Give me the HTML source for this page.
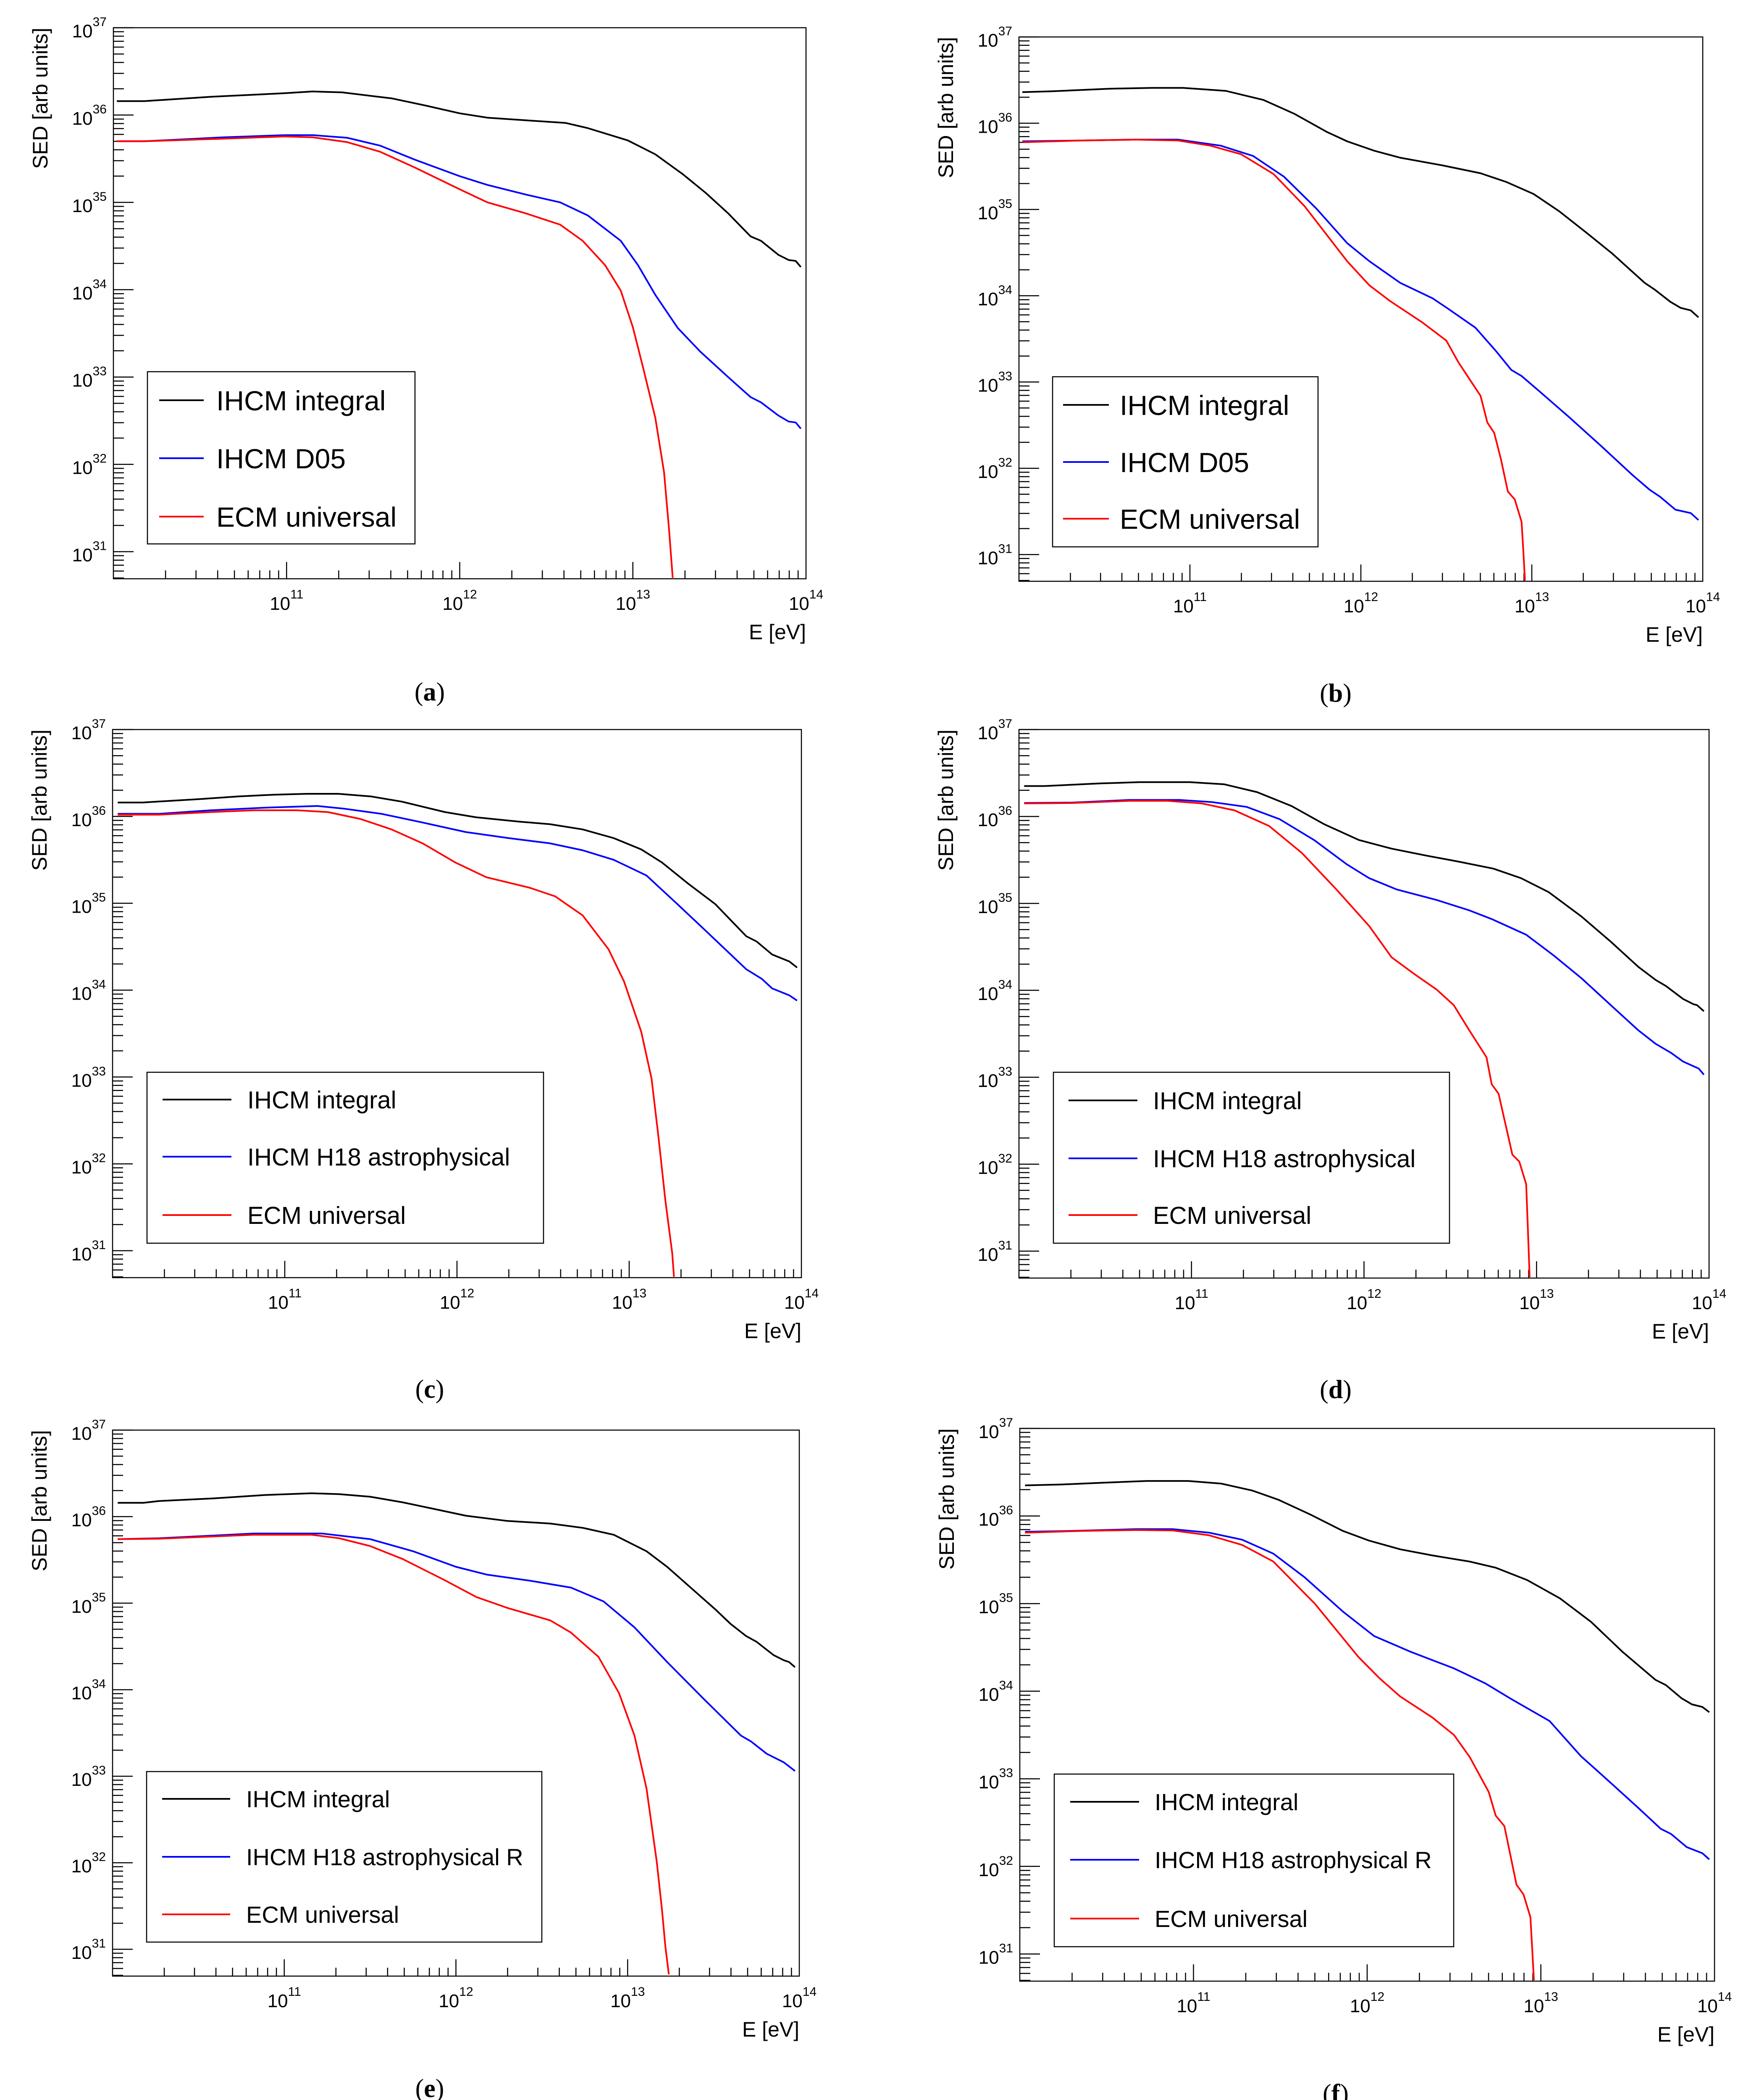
<!DOCTYPE html>
<html><head><meta charset="utf-8"><title>SED panels</title>
<style>html,body{margin:0;padding:0;background:#fff;width:4176px;height:5052px;overflow:hidden}svg{display:block;position:absolute;left:0;top:0}</style></head>
<body>
<svg id="fig" xmlns="http://www.w3.org/2000/svg" width="4176" height="5052" viewBox="0 0 4176 5052" font-family="Liberation Sans, sans-serif">
<rect width="4176" height="5052" fill="#fff"/>
</svg>
<script>
// ---- data: log10(E/eV) and log10(SED) per series ----
const aBlackE=[10.02,10.18,10.57,10.99,11.15,11.32,11.61,11.80,12.0,12.16,12.38,12.61,12.74,12.97,13.13,13.29,13.42,13.55,13.68,13.74,13.84,13.90,13.94,13.97];
const aBlackS=[36.16,36.16,36.21,36.25,36.27,36.26,36.19,36.11,36.02,35.97,35.94,35.91,35.85,35.71,35.55,35.32,35.11,34.875,34.61,34.56,34.40,34.34,34.33,34.26];
const aBlueE=[10.02,10.18,10.64,10.99,11.15,11.35,11.54,11.74,12.0,12.16,12.38,12.58,12.74,12.93,13.03,13.13,13.26,13.39,13.55,13.68,13.74,13.84,13.90,13.94,13.97];
const aBlueS=[35.70,35.70,35.745,35.77,35.77,35.74,35.65,35.49,35.30,35.20,35.09,35.0,34.85,34.56,34.28,33.94,33.56,33.29,33.0,32.77,32.71,32.56,32.49,32.48,32.41];
const aRedE=[10.02,10.18,10.64,10.99,11.15,11.35,11.54,11.74,12.0,12.16,12.38,12.58,12.71,12.84,12.93,13.0,13.06,13.13,13.18,13.21,13.23];
const aRedS=[35.70,35.70,35.73,35.755,35.745,35.69,35.58,35.40,35.15,35.0,34.875,34.745,34.56,34.28,33.99,33.57,33.10,32.53,31.91,31.23,30.70];

const bBlackE=[10.02,10.19,10.53,10.78,10.96,11.21,11.43,11.61,11.80,11.92,12.08,12.23,12.48,12.70,12.85,13.01,13.16,13.32,13.47,13.66,13.72,13.81,13.87,13.93,13.975];
const bBlackS=[36.36,36.37,36.40,36.41,36.41,36.375,36.27,36.11,35.90,35.79,35.68,35.60,35.51,35.42,35.32,35.18,34.98,34.73,34.49,34.15,34.07,33.93,33.86,33.83,33.75];
const bBlueE=[10.02,10.37,10.68,10.93,11.18,11.37,11.55,11.74,11.92,12.05,12.23,12.42,12.51,12.67,12.79,12.88,12.94,13.04,13.22,13.41,13.59,13.69,13.75,13.84,13.93,13.975];
const bBlueS=[35.79,35.80,35.81,35.81,35.74,35.62,35.38,35.01,34.61,34.40,34.15,33.97,33.85,33.63,33.36,33.14,33.07,32.90,32.59,32.25,31.92,31.75,31.67,31.52,31.48,31.40];
const bRedE=[10.02,10.37,10.68,10.93,11.12,11.30,11.49,11.67,11.92,12.05,12.17,12.36,12.50,12.57,12.70,12.74,12.78,12.82,12.86,12.90,12.94,12.95,12.96];
const bRedS=[35.78,35.80,35.81,35.80,35.74,35.64,35.41,35.04,34.40,34.12,33.94,33.69,33.48,33.23,32.84,32.53,32.41,32.10,31.73,31.64,31.38,31.06,30.70];

const cBlackE=[10.03,10.175,10.51,10.73,10.94,11.13,11.31,11.50,11.68,11.93,12.11,12.36,12.54,12.73,12.91,13.07,13.19,13.34,13.50,13.68,13.74,13.83,13.93,13.975];
const cBlackS=[36.16,36.16,36.20,36.23,36.25,36.26,36.26,36.23,36.17,36.05,35.99,35.94,35.91,35.85,35.75,35.62,35.47,35.23,34.99,34.62,34.56,34.41,34.33,34.26];
const cBlueE=[10.03,10.27,10.57,10.88,11.19,11.34,11.56,11.80,12.05,12.30,12.54,12.73,12.91,13.10,13.28,13.43,13.68,13.77,13.83,13.93,13.975];
const cBlueS=[36.03,36.03,36.07,36.10,36.12,36.09,36.03,35.93,35.82,35.75,35.69,35.61,35.50,35.32,34.99,34.71,34.24,34.13,34.02,33.94,33.88];
const cRedE=[10.03,10.27,10.57,10.82,11.07,11.25,11.44,11.62,11.80,11.99,12.17,12.42,12.57,12.73,12.88,12.97,13.07,13.13,13.17,13.21,13.25,13.26];
const cRedS=[36.02,36.02,36.05,36.07,36.07,36.05,35.97,35.85,35.69,35.47,35.30,35.18,35.08,34.86,34.47,34.10,33.52,32.98,32.31,31.58,30.97,30.70];

const dBlackE=[10.03,10.15,10.47,10.70,10.99,11.19,11.38,11.58,11.77,11.97,12.16,12.36,12.55,12.75,12.91,13.07,13.26,13.43,13.59,13.69,13.75,13.85,13.91,13.93,13.97];
const dBlackS=[36.35,36.35,36.38,36.395,36.395,36.37,36.28,36.12,35.91,35.73,35.63,35.55,35.48,35.40,35.29,35.13,34.85,34.56,34.27,34.12,34.05,33.90,33.84,33.83,33.76];
const dBlueE=[10.03,10.31,10.64,10.93,11.12,11.32,11.51,11.71,11.90,12.03,12.19,12.42,12.61,12.74,12.94,13.10,13.26,13.43,13.59,13.69,13.78,13.85,13.94,13.97];
const dBlueS=[36.155,36.16,36.19,36.19,36.165,36.11,35.97,35.73,35.45,35.29,35.16,35.04,34.92,34.82,34.64,34.40,34.14,33.83,33.54,33.385,33.28,33.18,33.10,33.03];
const dRedE=[10.03,10.31,10.64,10.86,11.06,11.25,11.45,11.64,11.84,12.03,12.16,12.29,12.42,12.52,12.61,12.71,12.74,12.78,12.86,12.90,12.94,12.95,12.96];
const dRedS=[36.15,36.155,36.18,36.18,36.15,36.07,35.89,35.58,35.16,34.74,34.38,34.19,34.01,33.83,33.54,33.23,32.92,32.81,32.11,32.03,31.77,31.25,30.70];

const eBlackE=[10.03,10.18,10.27,10.58,10.89,11.16,11.32,11.50,11.69,11.87,12.06,12.30,12.55,12.74,12.92,13.11,13.23,13.35,13.51,13.60,13.69,13.75,13.85,13.91,13.94,13.975];
const eBlackS=[36.16,36.16,36.18,36.21,36.25,36.27,36.26,36.23,36.165,36.09,36.01,35.95,35.92,35.87,35.79,35.60,35.42,35.21,34.93,34.76,34.62,34.555,34.40,34.34,34.32,34.26];
const eBlueE=[10.03,10.27,10.58,10.82,11.22,11.50,11.75,12.0,12.18,12.43,12.67,12.86,13.04,13.23,13.44,13.66,13.72,13.81,13.91,13.975];
const eBlueS=[35.74,35.75,35.78,35.805,35.805,35.74,35.60,35.42,35.33,35.26,35.18,35.02,34.72,34.32,33.90,33.47,33.40,33.26,33.16,33.06];
const eRedE=[10.03,10.27,10.58,10.82,11.16,11.32,11.50,11.69,11.93,12.12,12.30,12.55,12.67,12.83,12.95,13.04,13.11,13.17,13.20,13.22,13.24];
const eRedS=[35.74,35.745,35.77,35.79,35.79,35.75,35.66,35.51,35.27,35.07,34.945,34.80,34.66,34.38,33.96,33.47,32.86,32.01,31.46,31.03,30.71];

const fBlackE=[10.03,10.24,10.48,10.73,10.97,11.16,11.34,11.49,11.67,11.86,12.01,12.19,12.375,12.59,12.74,12.92,13.11,13.29,13.47,13.66,13.72,13.81,13.87,13.93,13.97];
const fBlackS=[36.35,36.36,36.38,36.40,36.40,36.37,36.29,36.185,36.02,35.83,35.72,35.62,35.55,35.48,35.41,35.27,35.06,34.79,34.45,34.13,34.07,33.92,33.85,33.82,33.76];
const fBlueE=[10.03,10.30,10.67,10.88,11.09,11.28,11.46,11.64,11.86,12.04,12.25,12.50,12.68,12.83,13.05,13.23,13.41,13.56,13.69,13.75,13.84,13.93,13.97];
const fBlueS=[35.82,35.83,35.85,35.85,35.81,35.73,35.57,35.30,34.91,34.63,34.45,34.26,34.09,33.91,33.66,33.26,32.94,32.67,32.43,32.37,32.22,32.15,32.08];
const fRedE=[10.03,10.36,10.67,10.88,11.09,11.28,11.46,11.70,11.95,12.07,12.19,12.375,12.50,12.59,12.70,12.74,12.79,12.86,12.90,12.94,12.95,12.96];
const fRedS=[35.81,35.83,35.84,35.835,35.78,35.67,35.48,34.996,34.39,34.15,33.94,33.70,33.50,33.25,32.85,32.58,32.46,31.79,31.68,31.42,31.07,30.70];

const yTickExps=[31,32,33,34,35,36,37];
const xTickExps=[11,12,13,14];

const NS="http://www.w3.org/2000/svg";
const svg=document.getElementById('fig');
function mk(tag,attrs,parent){const e=document.createElementNS(NS,tag);for(const k in attrs)e.setAttribute(k,attrs[k]);(parent||svg).appendChild(e);return e;}

const panels=[
 {id:'a',L:270,R:1919,T:66,B:1378,lab:[1023,1668],
  series:[[aBlackE,aBlackS,'#000'],[aBlueE,aBlueS,'#00f'],[aRedE,aRedS,'#f00']],
  leg:{x1:351,x2:988,y1:885,y2:1295,lx1:379,lx2:485,tx:515,rows:[953,1091,1230],fs:66},
  names:['IHCM integral','IHCM D05','ECM universal']},
 {id:'b',L:2426,R:4054,T:88,B:1384,lab:[3180,1671],
  series:[[bBlackE,bBlackS,'#000'],[bBlueE,bBlueS,'#00f'],[bRedE,bRedS,'#f00']],
  leg:{x1:2506,x2:3138,y1:897,y2:1302,lx1:2531,lx2:2640,tx:2666,rows:[964,1100,1235],fs:66},
  names:['IHCM integral','IHCM D05','ECM universal']},
 {id:'c',L:268,R:1908,T:1737,B:3042,lab:[1023,3328],
  series:[[cBlackE,cBlackS,'#000'],[cBlueE,cBlueS,'#00f'],[cRedE,cRedS,'#f00']],
  leg:{x1:350,x2:1294,y1:2553,y2:2960,lx1:387,lx2:551,tx:589,rows:[2618,2754,2893],fs:58},
  names:['IHCM integral','IHCM H18 astrophysical','ECM universal']},
 {id:'d',L:2426,R:4069,T:1737,B:3043,lab:[3180,3329],
  series:[[dBlackE,dBlackS,'#000'],[dBlueE,dBlueS,'#00f'],[dRedE,dRedS,'#f00']],
  leg:{x1:2508,x2:3451,y1:2553,y2:2960,lx1:2544,lx2:2708,tx:2745,rows:[2620,2758,2893],fs:58},
  names:['IHCM integral','IHCM H18 astrophysical','ECM universal']},
 {id:'e',L:268,R:1903,T:3405,B:4705,lab:[1023,4993],
  series:[[eBlackE,eBlackS,'#000'],[eBlueE,eBlueS,'#00f'],[eRedE,eRedS,'#f00']],
  leg:{x1:349,x2:1290,y1:4218,y2:4624,lx1:386,lx2:548,tx:586,rows:[4283,4421,4558],fs:56},
  names:['IHCM integral','IHCM H18 astrophysical R','ECM universal']},
 {id:'f',L:2428,R:4082,T:3401,B:4717,lab:[3180,5005],
  series:[[fBlackE,fBlackS,'#000'],[fBlueE,fBlueS,'#00f'],[fRedE,fRedS,'#f00']],
  leg:{x1:2510,x2:3461,y1:4224,y2:4635,lx1:2548,lx2:2712,tx:2749,rows:[4290,4428,4568],fs:56},
  names:['IHCM integral','IHCM H18 astrophysical R','ECM universal']}
];
const XMIN=10,XMAX=14,YMIN=30.69,YMAX=37;
const snames=['black','blue','red'];

panels.forEach(p=>{
  const g=mk('g',{});
  
  
  const xs=v=>p.L+(v-XMIN)/(XMAX-XMIN)*(p.R-p.L);
  const ys=v=>p.B-(v-YMIN)/(YMAX-YMIN)*(p.B-p.T);
  const cp=mk('clipPath',{id:'clip-'+p.id},g);
  mk('rect',{x:p.L,y:p.T,width:p.R-p.L,height:p.B-p.T},cp);
  const fr=mk('rect',{x:p.L,y:p.T,width:p.R-p.L,height:p.B-p.T,fill:'none',stroke:'#000','stroke-width':2.5},g);
  
  
  const yt=mk('g',{stroke:'#000','stroke-width':2.5},g);
  
  
  for(let d=30;d<=36;d++){for(let m=1;m<=9;m++){const v=d+Math.log10(m);if(v<YMIN-1e-6||v>YMAX+1e-6)continue;const len=m===1?48:25;mk('line',{x1:p.L,x2:p.L+len,y1:ys(v),y2:ys(v)},yt);}}
  mk('line',{x1:p.L,x2:p.L+48,y1:ys(37),y2:ys(37)},yt);
  const xt=mk('g',{stroke:'#000','stroke-width':2.5},g);
  
  
  for(let d=10;d<=13;d++){for(let m=1;m<=9;m++){const v=d+Math.log10(m);if(v<=XMIN+1e-6)continue;const len=m===1?40:20;mk('line',{x1:xs(v),x2:xs(v),y1:p.B,y2:p.B-len},xt);}}
  yTickExps.forEach(ex=>{
    const t=mk('text',{x:p.L-16,y:ys(ex)+23,'text-anchor':'end','font-size':44,fill:'#000'},g);
    
    
    const a=mk('tspan',{},t);a.textContent='10';
    const b=mk('tspan',{dy:-27,'font-size':30},t);b.textContent=String(ex);
  });
  xTickExps.forEach(ex=>{
    const t=mk('text',{x:xs(ex),y:p.B+74,'text-anchor':'middle','font-size':44,fill:'#000'},g);
    
    
    const a=mk('tspan',{},t);a.textContent='10';
    const b=mk('tspan',{dy:-27,'font-size':30},t);b.textContent=String(ex);
  });
  const xtit=mk('text',{x:p.R,y:p.B+144,'text-anchor':'end','font-size':50,fill:'#000'},g);
  xtit.textContent='E [eV]';
  
  
  const cx=p.L-175;
  const ytit=mk('text',{x:0,y:0,'text-anchor':'end','font-size':50,fill:'#000',transform:`translate(${cx+18},${p.T}) rotate(-90)`},g);
  ytit.textContent='SED [arb units]';
  
  
  const cg=mk('g',{'clip-path':`url(#clip-${p.id})`,fill:'none','stroke-width':4,'stroke-linejoin':'round'},g);
  p.series.forEach((s,i)=>{
    const E=s[0],S=s[1];
    let d='';
    for(let k=0;k<E.length;k++){d+=(k?'L':'M')+xs(E[k]).toFixed(1)+','+ys(S[k]).toFixed(1);}
    const path=mk('path',{d:d,stroke:s[2]},cg);
    
    
  });
  const L=p.leg;
  const lg=mk('g',{},g);
  
  
  mk('rect',{x:L.x1,y:L.y1,width:L.x2-L.x1,height:L.y2-L.y1,fill:'#fff',stroke:'#000','stroke-width':2.5},lg);
  ['#000','#00f','#f00'].forEach((c,i)=>{
    const ent=mk('g',{},lg);
    
    
    mk('line',{x1:L.lx1,x2:L.lx2,y1:L.rows[i],y2:L.rows[i],stroke:c,'stroke-width':4},ent);
    const t=mk('text',{x:L.tx,y:L.rows[i]+L.fs*0.36,'font-size':L.fs,fill:'#000'},ent);
    t.textContent=p.names[i];
  });
  const pl=mk('text',{x:p.lab[0],y:p.lab[1],'text-anchor':'middle','font-size':62,'font-family':'Liberation Serif, serif',fill:'#000'},g);
  
  
  const t1=mk('tspan',{},pl);t1.textContent='(';
  const t2=mk('tspan',{'font-weight':'bold'},pl);t2.textContent=p.id;
  const t3=mk('tspan',{},pl);t3.textContent=')';
});
</script>
</body></html>
